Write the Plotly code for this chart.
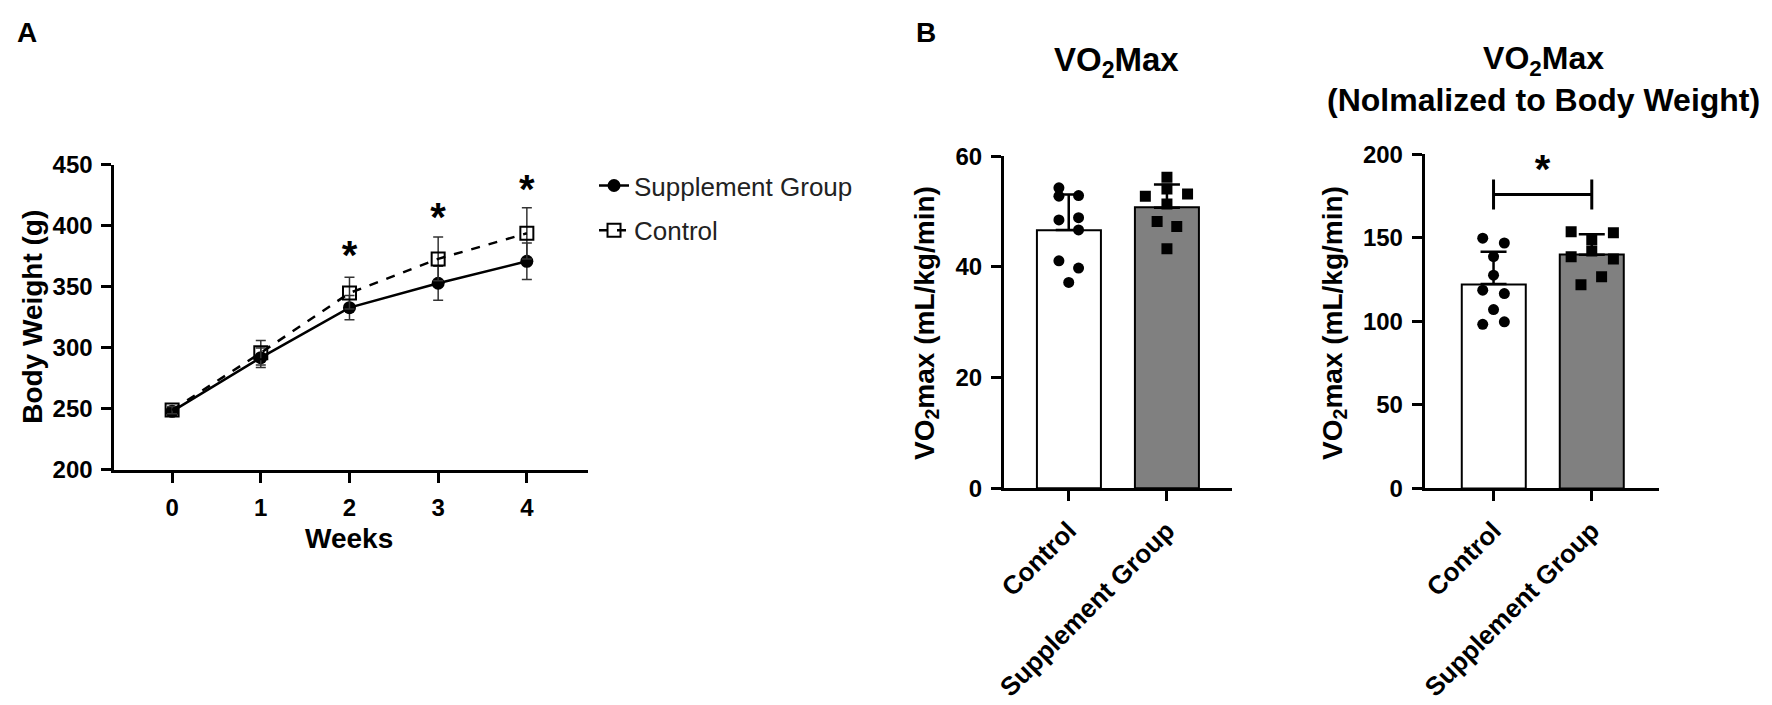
import plotly.graph_objects as go

# Panel A - body weight over time (mean +/- SD)
weeks = [0, 1, 2, 3, 4]
supp_mean = [248, 292, 333, 353, 371]
supp_sd = [3, 8, 10, 14, 15]
ctrl_mean = [249, 296, 345, 373, 394]
ctrl_sd = [3, 10, 13, 18, 21]
star_weeks = [2, 3, 4]
star_y = [373, 404, 427]

# Panel B - VO2max groups
groups = ["Control", "Supplement Group"]
group_pos = [0, 1]
vo2_mean = [46.7, 50.7]
vo2_sd = [6.4, 4.2]
vo2_ctrl = [54.3, 52.8, 52.9, 48.5, 48.9, 46.7, 41.1, 39.8, 37.2]
vo2_ctrl_dx = [-0.1, -0.1, 0.1, -0.1, 0.1, 0.1, -0.1, 0.1, 0.0]
vo2_supp = [56.2, 52.8, 53.2, 54.1, 51.4, 48.2, 47.3, 43.3]
vo2_supp_dx = [0.0, -0.22, 0.21, 0.0, 0.0, -0.1, 0.1, 0.0]

nvo2_mean = [122.3, 139.8]
nvo2_sd = [19.4, 12.3]
nvo2_ctrl = [149.8, 146.9, 138.8, 127.6, 118.6, 116.6, 107.0, 98.2, 99.7]
nvo2_ctrl_dx = [-0.11, 0.11, 0.0, 0.0, -0.11, 0.11, 0.0, -0.11, 0.11]
nvo2_supp = [153.6, 153.1, 148.8, 142.1, 138.6, 137.3, 126.7, 121.9]
nvo2_supp_dx = [-0.21, 0.22, 0.0, 0.0, -0.21, 0.22, 0.1, -0.11]
sig_y = 176
sig_cap = 9
sig_star_y = 189

W, H = 1772, 705
FONT = "Liberation Sans"


def px(x):
	return x / W


def py(y):
	return 1 - y / H


def bold(size):
	return dict(family=FONT, size=size, color="black", weight="bold")


fig = go.Figure()

# ---- panel A
fig.add_trace(go.Scatter(
	x=weeks, y=supp_mean, name="Supplement Group",
	mode="lines+markers", legendgroup="s",
	line=dict(color="black", width=2.5),
	marker=dict(symbol="circle", size=13, color="black"),
	error_y=dict(type="data", array=supp_sd, color="#333", thickness=1.5, width=5),
	xaxis="x", yaxis="y"
))
fig.add_trace(go.Scatter(
	x=weeks, y=ctrl_mean, name="Control",
	mode="lines+markers", legendgroup="c",
	line=dict(color="black", width=2.5, dash="dash"),
	marker=dict(symbol="square-open", size=13, color="black", line=dict(width=2)),
	error_y=dict(type="data", array=ctrl_sd, color="#333", thickness=1.5, width=5),
	xaxis="x", yaxis="y"
))
fig.add_trace(go.Scatter(
	x=star_weeks, y=star_y, mode="text", text=["*"] * len(star_weeks),
	textfont=bold(40), showlegend=False, hoverinfo="skip",
	xaxis="x", yaxis="y"
))


# ---- panel B helpers
def add_bar_panel(means, sds, ctrl_pts, ctrl_dx, supp_pts, supp_dx, xa, ya):
	fig.add_trace(go.Bar(
		x=group_pos, y=means, width=0.65,
		marker=dict(color=["white", "#808080"], line=dict(color="black", width=2)),
		error_y=dict(type="data", array=sds, arrayminus=[0, 0], symmetric=False,
			color="black", thickness=2.5, width=13),
		showlegend=False, xaxis=xa, yaxis=ya
	))
	fig.add_trace(go.Scatter(
		x=[group_pos[0] + d for d in ctrl_dx], y=ctrl_pts, mode="markers",
		marker=dict(symbol="circle", size=11, color="black"),
		showlegend=False, xaxis=xa, yaxis=ya
	))
	fig.add_trace(go.Scatter(
		x=[group_pos[1] + d for d in supp_dx], y=supp_pts, mode="markers",
		marker=dict(symbol="square", size=11, color="black"),
		showlegend=False, xaxis=xa, yaxis=ya
	))


add_bar_panel(vo2_mean, vo2_sd, vo2_ctrl, vo2_ctrl_dx, vo2_supp, vo2_supp_dx, "x2", "y2")
add_bar_panel(nvo2_mean, nvo2_sd, nvo2_ctrl, nvo2_ctrl_dx, nvo2_supp, nvo2_supp_dx, "x3", "y3")

# significance bracket
fig.add_trace(go.Scatter(
	x=group_pos, y=[sig_y, sig_y], mode="lines",
	line=dict(color="black", width=3),
	error_y=dict(type="constant", value=sig_cap, color="black", thickness=3, width=0),
	showlegend=False, hoverinfo="skip", xaxis="x3", yaxis="y3"
))
fig.add_trace(go.Scatter(
	x=[0.5], y=[sig_star_y], mode="text", text=["*"],
	textfont=bold(40), showlegend=False, hoverinfo="skip",
	xaxis="x3", yaxis="y3"
))

axis_common = dict(
	showline=True, linewidth=3, linecolor="black",
	ticks="outside", ticklen=10, tickwidth=3, tickcolor="black",
	showgrid=False, zeroline=False, ticklabelstandoff=4
)

fig.update_layout(
	width=W, height=H,
	margin=dict(l=0, r=0, t=0, b=0),
	paper_bgcolor="white", plot_bgcolor="white",
	bargap=0,
	xaxis=dict(axis_common, domain=[px(106), px(582)], range=[-0.65, 4.69],
		tickvals=weeks, tickfont=bold(24), anchor="y"),
	yaxis=dict(axis_common, domain=[py(474), py(157)], range=[200, 450],
		tickvals=[200, 250, 300, 350, 400, 450], tickfont=bold(24), anchor="x"),
	xaxis2=dict(axis_common, domain=[px(1000), px(1229)], range=[-0.66, 1.66],
		tickvals=group_pos, ticktext=groups, tickangle=-45, tickfont=bold(26), anchor="y2"),
	yaxis2=dict(axis_common, domain=[py(493), py(148)], range=[0, 60],
		tickvals=[0, 20, 40, 60], tickfont=bold(24), anchor="x2"),
	xaxis3=dict(axis_common, domain=[px(1423), px(1658)], range=[-0.70, 1.68],
		tickvals=group_pos, ticktext=groups, tickangle=-45, tickfont=bold(26), anchor="y3"),
	yaxis3=dict(axis_common, domain=[py(493), py(146)], range=[0, 200],
		tickvals=[0, 50, 100, 150, 200], tickfont=bold(24), anchor="x3"),
	legend=dict(x=px(588), y=py(154), xanchor="left", yanchor="top",
		font=dict(family=FONT, size=26, color="#222"), tracegroupgap=8,
		bgcolor="rgba(0,0,0,0)"),
)

annotations = [
	dict(text="A", x=px(18), y=py(19), font=bold(28)),
	dict(text="B", x=px(922), y=py(19), font=bold(28)),
	dict(text="Body Weight (g)", x=px(24), y=py(315), font=bold(28), textangle=-90),
	dict(text="Weeks", x=px(342), y=py(545), font=bold(28)),
	dict(text="VO<sub>2</sub>Max", x=px(1113), y=py(50), font=bold(33)),
	dict(text="VO<sub>2</sub>Max<br>(Nolmalized to Body Weight)", x=px(1542), y=py(68),
		font=bold(32)),
	dict(text="VO<sub>2</sub>max (mL/kg/min)", x=px(922), y=py(321), font=bold(28), textangle=-90),
	dict(text="VO<sub>2</sub>max (mL/kg/min)", x=px(1332), y=py(321), font=bold(28), textangle=-90),
]
for a in annotations:
	a.update(xref="paper", yref="paper", showarrow=False, xanchor="center", yanchor="middle")
fig.update_layout(annotations=annotations)

# the default page keeps an 8px body margin, drop it so pixels line up
fig.write_html("out.html", config={"displayModeBar": False},
	post_script="document.body.style.margin='0';")
